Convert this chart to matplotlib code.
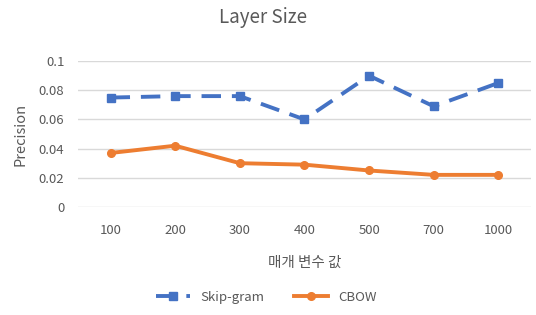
import numpy as np
import matplotlib
matplotlib.use('Agg')
import matplotlib.pyplot as plt

plt.rcParams['font.family'] = ['Noto Sans CJK KR', 'DejaVu Sans']

sizes = ['100', '200', '300', '400', '500', '700', '1000']
skipgram = [0.075, 0.076, 0.076, 0.060, 0.090, 0.069, 0.085]
cbow = [0.037, 0.042, 0.030, 0.029, 0.025, 0.022, 0.022]

txt = '#595959'
fig = plt.figure(figsize=(5.36, 3.15), dpi=100)
ax = fig.add_axes([0.146, 0.343, 0.844, 0.463])
x = np.arange(len(sizes))

ax.plot(x, skipgram, color='#4472C4', linestyle=(0, (5, 2.8)), lw=2.8,
        marker='s', markersize=5.5, label='Skip-gram')
ax.plot(x, cbow, color='#ED7D31', lw=2.8, marker='o', markersize=5.5, label='CBOW')

ax.set_xlim(-0.5, len(sizes) - 0.5)
ax.set_ylim(0, 0.1)
ax.set_yticks([0, 0.02, 0.04, 0.06, 0.08, 0.1])
ax.set_yticklabels(['0', '0.02', '0.04', '0.06', '0.08', '0.1'])
ax.set_xticks(x)
ax.set_xticklabels(sizes)
ax.grid(axis='y', color='#D9D9D9', lw=1)
ax.set_axisbelow(True)
for s in ax.spines.values():
    s.set_visible(False)
ax.tick_params(axis='x', pad=12)
ax.tick_params(length=0, colors=txt, labelsize=9.5)
ax.tick_params(axis='y', pad=10)

fig.text(0.49, 0.943, 'Layer Size', color=txt, fontsize=13.5, ha='center', va='center')
ax.set_ylabel('Precision', color=txt, fontsize=10.5, labelpad=8)
ax.set_xlabel('매개 변수 값', color=txt, fontsize=10.5, labelpad=14)

ax.legend(loc='center', bbox_to_anchor=(0.416, -0.62), ncol=2, frameon=False,
          fontsize=9.5, labelcolor=txt, handlelength=2.6, columnspacing=2.2)

fig.savefig('out.png', dpi=100)
